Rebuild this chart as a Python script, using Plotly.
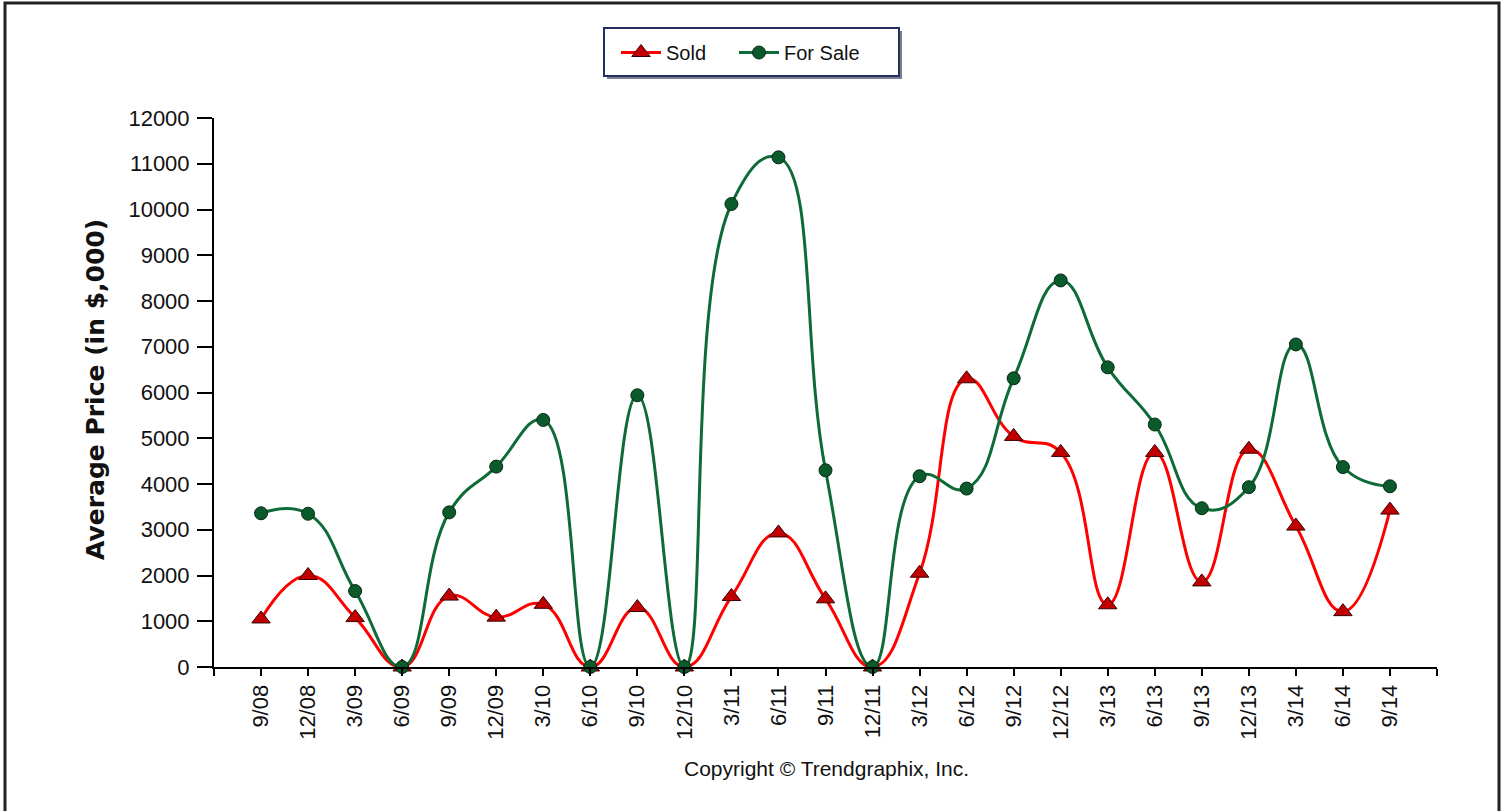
import plotly.graph_objects as go

dates = ["9/08", "12/08", "3/09", "6/09", "9/09", "12/09", "3/10", "6/10", "9/10", "12/10",
         "3/11", "6/11", "9/11", "12/11", "3/12", "6/12", "9/12", "12/12", "3/13", "6/13",
         "9/13", "12/13", "3/14", "6/14", "9/14"]
sold = [1050, 2000, 1080, 0, 1550, 1090, 1370, 0, 1300, 0,
        1540, 2930, 1490, 0, 2050, 6300, 5040, 4690, 1360, 4690,
        1860, 4760, 3080, 1210, 3430]
for_sale = [3360, 3350, 1660, 0, 3380, 4380, 5400, 0, 5940, 0,
            10120, 11140, 4300, 0, 4170, 3900, 6310, 8450, 6550, 5300,
            3470, 3930, 7050, 4370, 3950]
y_ticks = list(range(0, 12001, 1000))

W, H = 1504, 811
L, R, T, B = 214, 1504 - 1437, 118, 811 - 667
PW, PH = W - L - R, H - T - B


def px(x):
    return (x - L) / PW


def py(y):
    return (H - B - y) / PH


xs = list(range(len(dates)))
fig = go.Figure()
fig.add_trace(go.Scatter(
    x=xs, y=sold, name="Sold", mode="lines+markers", legend="legend",
    line=dict(color="#FF0000", width=3, shape="spline", smoothing=1.3),
    marker=dict(symbol="triangle-up", size=16, color="#C00000",
                line=dict(color="#3A0000", width=1)),
    cliponaxis=False))
fig.add_trace(go.Scatter(
    x=xs, y=for_sale, name="For Sale", mode="lines+markers", legend="legend2",
    line=dict(color="#0E6B38", width=3, shape="spline", smoothing=1.3),
    marker=dict(symbol="circle", size=13, color="#0A5A2C",
                line=dict(color="#0A2A14", width=1)),
    cliponaxis=False))

tickfont = dict(family="Liberation Sans, Arial, sans-serif", size=22, color="#111111")
legfont = dict(family="Liberation Sans, Arial, sans-serif", size=20, color="#111111")
fig.update_layout(
    width=W, height=H,
    margin=dict(l=L, r=R, t=T, b=B, autoexpand=False),
    paper_bgcolor="white", plot_bgcolor="white",
    showlegend=True,
    legend=dict(orientation="h", x=px(616), y=py(33), xanchor="left", yanchor="top",
                bgcolor="rgba(0,0,0,0)", borderwidth=0, font=legfont, itemwidth=40),
    legend2=dict(orientation="h", x=px(734), y=py(33), xanchor="left", yanchor="top",
                 bgcolor="rgba(0,0,0,0)", borderwidth=0, font=legfont, itemwidth=40),
    xaxis=dict(range=[-1, 25], tickmode="array", tickvals=list(range(-1, 26)),
               ticktext=[""] + dates + [""], tickangle=-90, ticks="outside",
               ticklen=7, tickwidth=2, tickcolor="black", showline=True,
               linecolor="black", linewidth=2, showgrid=False, zeroline=False,
               tickfont=tickfont),
    yaxis=dict(range=[0, 12000], tickmode="array", tickvals=y_ticks,
               ticktext=[str(v) for v in y_ticks], ticks="outside", ticklen=15,
               tickwidth=2, tickcolor="black", showline=True, linecolor="black",
               linewidth=2, showgrid=False, zeroline=False, tickfont=tickfont,
               ticklabelstandoff=3),
    shapes=[
        # outer frame
        dict(type="rect", xref="paper", yref="paper", x0=px(5), x1=px(1499), y0=py(815), y1=py(3),
             line=dict(color="#222222", width=3), fillcolor="rgba(0,0,0,0)", layer="below"),
        # legend shadow
        dict(type="rect", xref="paper", yref="paper", x0=px(607), x1=px(902), y0=py(79), y1=py(31),
             line=dict(width=0), fillcolor="#7A7E90", layer="above"),
        # legend box
        dict(type="rect", xref="paper", yref="paper", x0=px(604), x1=px(899), y0=py(76), y1=py(28),
             line=dict(color="#24305E", width=2), fillcolor="white", layer="above"),
    ],
    annotations=[
        dict(text="<b>Average Price (in $,000)</b>", xref="paper", yref="paper",
             x=px(95), y=py(390), textangle=-90, showarrow=False,
             font=dict(family="DejaVu Sans, Verdana, sans-serif", size=25, color="#111111"),
             xanchor="center", yanchor="middle"),
        dict(text="Copyright © Trendgraphix, Inc.", xref="paper", yref="paper",
             x=px(826), y=py(768), showarrow=False,
             font=dict(family="Liberation Sans, Arial, sans-serif", size=21, color="#111111"),
             xanchor="center", yanchor="middle"),
    ],
)

fig.write_html("out.html", config={"displayModeBar": False},
               post_script="document.body.style.margin='0';")
